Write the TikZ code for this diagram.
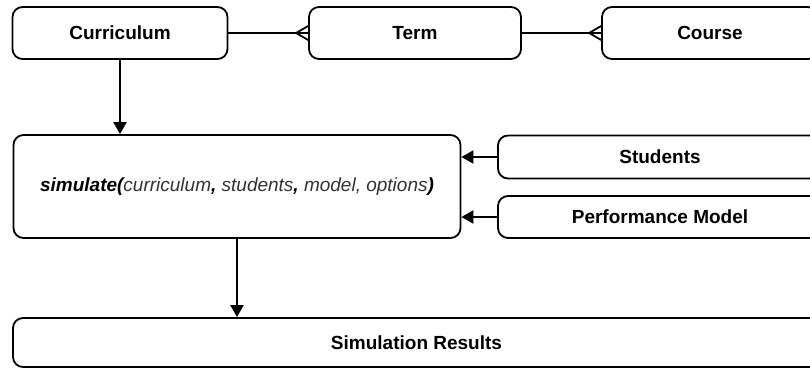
\documentclass[tikz,border=0pt]{standalone}
\usepackage{fontspec}
\setmainfont{Liberation Sans}
\usetikzlibrary{arrows.meta}

\tikzset{
  box/.style={draw, line width=1.8pt, rounded corners=10pt, inner sep=0pt,
              font=\fontsize{19}{22}\selectfont\bfseries},
  flow/.style={line width=2pt, -{Triangle[width=13pt,length=12pt]}},
  link/.style={line width=1.8pt}
}
\newcommand{\argtext}[1]{{\mdseries\color{black!80}#1}}

\begin{document}
\begin{tikzpicture}[x=1pt,y=-1pt]
  \useasboundingbox (0,0) rectangle (810,369);
  \clip (0,0) rectangle (810,369);

  % entity chain along the top
  \node[box, minimum width=215pt, minimum height=52pt] (curr) at (120,33) {Curriculum};
  \node[box, minimum width=212pt, minimum height=52pt] (term) at (415,33) {Term};
  \node[box, minimum width=216pt, minimum height=52pt] (course) at (710,33) {Course};

  % the simulate call and its inputs
  \node[box, minimum width=447pt, minimum height=103pt] (sim) at (237,186.5)
    {\itshape simulate(\argtext{curriculum}, \argtext{students}, \argtext{model, options})};
  \node[box, minimum width=324pt, minimum height=43pt] (stud) at (660,157) {Students};
  \node[box, minimum width=324pt, minimum height=42pt] (perf) at (660,217) {Performance Model};

  % output
  \node[box, minimum width=807pt, minimum height=49pt] (res) at (416.5,342.5) {Simulation Results};

  % one-to-many links with crow's feet
  \draw[link] (curr.east) -- (term.west);
  \draw[link] ([xshift=-12pt]term.west) -- ([yshift=7pt]term.west);
  \draw[link] ([xshift=-12pt]term.west) -- ([yshift=-7pt]term.west);
  \draw[link] (term.east) -- (course.west);
  \draw[link] ([xshift=-12pt]course.west) -- ([yshift=7pt]course.west);
  \draw[link] ([xshift=-12pt]course.west) -- ([yshift=-7pt]course.west);

  % data flow
  \draw[flow] (curr.south) -- (curr.south |- sim.north);
  \draw[flow] (stud.west) -- (stud.west -| sim.east);
  \draw[flow] (perf.west) -- (perf.west -| sim.east);
  \draw[flow] (sim.south) -- (sim.south |- res.north);
\end{tikzpicture}
\end{document}
